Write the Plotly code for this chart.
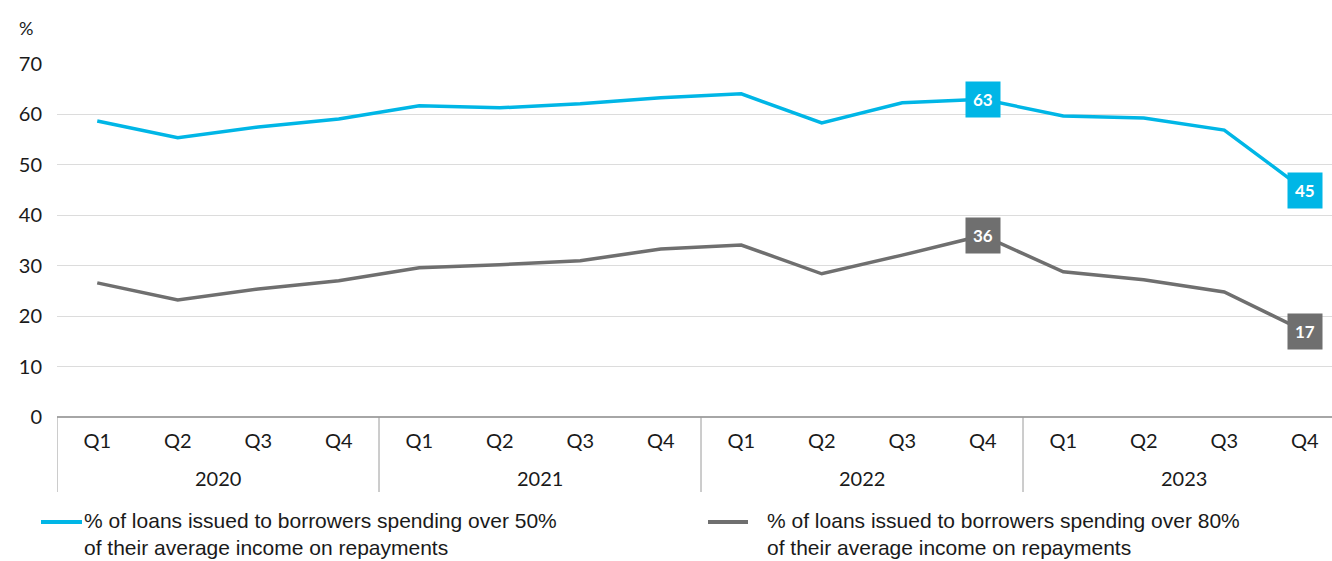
import plotly.graph_objects as go

# Quarterly periods
years = ["2020", "2021", "2022", "2023"]
quarters = ["Q1", "Q2", "Q3", "Q4"]

# Share of loans (%) by repayment-to-income threshold
over_50 = [58.7, 55.4, 57.5, 59.1, 61.7, 61.3, 62.1, 63.3,
           64.1, 58.3, 62.3, 63.0, 59.7, 59.3, 56.9, 45.0]
over_80 = [26.6, 23.2, 25.4, 27.0, 29.6, 30.2, 31.0, 33.3,
           34.1, 28.4, 32.1, 36.0, 28.8, 27.2, 24.8, 17.0]

# Points that carry a value box
labelled_idx = [11, 15]

series = [
    ("% of loans issued to borrowers spending over 50%<br>of their average income on repayments", over_50, "#00B6E6"),
    ("% of loans issued to borrowers spending over 80%<br>of their average income on repayments", over_80, "#6F6F6F"),
]

W, H = 1332, 561
L, T, B = 57, 64, 144
plot_w = W - L
plot_h = H - T - B
cat_px = 80.5
n = len(years) * len(quarters)
x_idx = list(range(n))
x_max = -0.5 + plot_w / cat_px


def px_x(px):
    return (px - L) / plot_w


def px_y(py):
    return (T + plot_h - py) / plot_h


font_main = "Lato, 'Open Sans', sans-serif"
font_legend = "'Liberation Sans Narrow', 'Arial Narrow', 'Liberation Sans', Arial, sans-serif"

fig = go.Figure()
annotations = []
shapes = []

for name, vals, color in series:
    fig.add_trace(go.Scatter(
        x=x_idx, y=vals, mode="lines", name=name,
        line=dict(color=color, width=3.5), showlegend=False,
        hoverinfo="skip",
    ))
    for i in labelled_idx:
        annotations.append(dict(
            x=i, y=vals[i], xref="x", yref="y",
            text=f"<b>{round(vals[i])}</b>", showarrow=False,
            font=dict(family=font_main, size=17, color="white"),
            bgcolor=color, borderpad=7, xanchor="center", yanchor="middle",
        ))

# Year labels and group dividers under the quarter axis
for k, yr in enumerate(years):
    centre = k * len(quarters) + (len(quarters) - 1) / 2
    annotations.append(dict(
        x=centre, y=px_y(478), xref="x", yref="paper", text=yr,
        showarrow=False, font=dict(family=font_main, size=20, color="#1a1a1a"),
        xanchor="center", yanchor="middle",
    ))
    shapes.append(dict(
        type="line", xref="x", yref="paper",
        x0=k * len(quarters) - 0.5, x1=k * len(quarters) - 0.5,
        y0=0, y1=px_y(492), line=dict(color="#9a9a9a", width=1),
    ))

# Unit label
annotations.append(dict(
    x=px_x(26), y=px_y(28), xref="paper", yref="paper", text="%",
    showarrow=False, font=dict(family=font_main, size=18, color="#1a1a1a"),
    xanchor="center", yanchor="middle",
))

# Legend drawn beneath the chart
legend_pos = [(41, 82, 82), (708, 748, 765)]
for (x0, x1, tx), (name, vals, color) in zip(legend_pos, series):
    shapes.append(dict(
        type="line", xref="paper", yref="paper",
        x0=px_x(x0), x1=px_x(x1), y0=px_y(522), y1=px_y(522),
        line=dict(color=color, width=4),
    ))
    annotations.append(dict(
        x=px_x(tx), y=px_y(507), xref="paper", yref="paper", text=name,
        showarrow=False, align="left", xanchor="left", yanchor="top",
        font=dict(family=font_legend, size=21, color="#1a1a1a"),
    ))

fig.update_layout(
    width=W, height=H,
    margin=dict(l=L, r=0, t=T, b=B),
    paper_bgcolor="white", plot_bgcolor="white",
    xaxis=dict(
        range=[-0.5, x_max], tickmode="array", tickvals=x_idx,
        ticktext=quarters * len(years), showgrid=False, zeroline=False,
        showline=False, ticks="", ticklabelstandoff=10,
        tickfont=dict(family=font_main, size=20, color="#1a1a1a"),
    ),
    yaxis=dict(
        range=[0, 70], tickvals=[0, 10, 20, 30, 40, 50, 60, 70],
        showgrid=True, gridcolor="#dcdcdc", gridwidth=1,
        zeroline=True, zerolinecolor="#a6a6a6", zerolinewidth=1.5,
        showline=False, ticks="", ticklabelstandoff=14,
        tickfont=dict(family=font_main, size=20, color="#1a1a1a"),
    ),
    annotations=annotations,
    shapes=shapes,
)

fig.write_html("out.html")
